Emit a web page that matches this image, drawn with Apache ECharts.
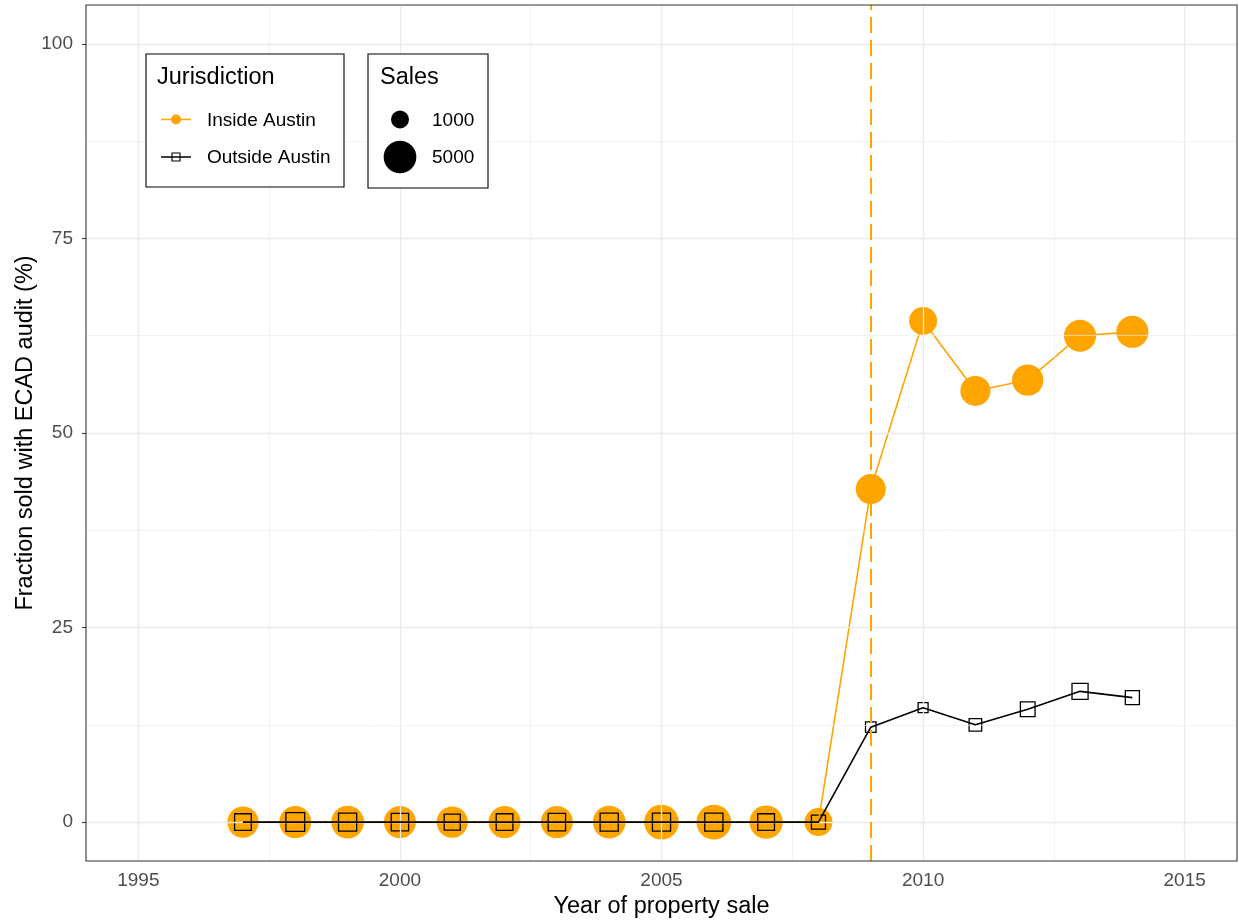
<!DOCTYPE html>
<html>
<head>
<meta charset="utf-8">
<script src="https://cdn.jsdelivr.net/npm/echarts@6/dist/echarts.min.js"></script>
<style>
html,body{margin:0;padding:0;background:#fff;}
#chart{width:1239px;height:922px;}
</style>
</head>
<body>
<div id="chart"></div>
<script>
// ---- data ----
const years = [1997,1998,1999,2000,2001,2002,2003,2004,2005,2006,2007,2008,2009,2010,2011,2012,2013,2014];
const insidePct  = [0,0,0,0,0,0,0,0,0,0,0,0,42.8,64.4,55.4,56.8,62.5,63.0];
const outsidePct = [0,0,0,0,0,0,0,0,0,0,0,0,12.2,14.7,12.5,14.5,16.8,16.0];
const insideSales  = [4500,4750,5000,4750,4500,4750,4750,5000,5800,5800,5250,3400,4050,3400,4050,4500,4750,4750];
const outsideSales = [1300,1770,1620,1450,1170,1300,1450,1620,1620,1620,1300,800,320,260,570,900,1170,800];
const xTicks = [1995,2000,2005,2010,2015];
const xMinorTicks = [1997.5,2002.5,2007.5,2012.5];
const yTicks = [0,25,50,75,100];
const yMinorTicks = [12.5,37.5,62.5,87.5];
const salesBreaks = [1000,5000];
const policyYear = 2009;
const seriesNames = ['Inside Austin','Outside Austin'];

// ---- helpers ----
const FONT = "'Liberation Sans', Arial, Helvetica, sans-serif";
const ORANGE = '#FFA500';
const TICK_FS = 19, TITLE_FS = 23.5, LEG_FS = 19;
function circleSize(s){
  return 18 + (Math.sqrt(s) - Math.sqrt(1000)) * 14.7 / (Math.sqrt(5000) - Math.sqrt(1000));
}
function squareSize(s){
  return 0.9 * circleSize(s) - 1.0;
}
const insideData = years.map((y,i)=>[y, insidePct[i], insideSales[i]]);
const outsideData = years.map((y,i)=>[y, outsidePct[i], outsideSales[i]]);

const chart = echarts.init(document.getElementById('chart'), null, {renderer:'canvas'});

const gridLines = [];
xMinorTicks.forEach(v=>gridLines.push({xAxis:v, lineStyle:{color:'#ebebeb', width:0.6, type:'solid'}}));
yMinorTicks.forEach(v=>gridLines.push({yAxis:v, lineStyle:{color:'#ebebeb', width:0.6, type:'solid'}}));
xTicks.forEach(v=>gridLines.push({xAxis:v, lineStyle:{color:'#ebebeb', width:1.3, type:'solid'}}));
yTicks.forEach(v=>gridLines.push({yAxis:v, lineStyle:{color:'#ebebeb', width:1.3, type:'solid'}}));

const legendGraphics = [
  {type:'rect', shape:{x:146, y:54, width:198, height:133}, style:{fill:'#fff', stroke:'#000', lineWidth:1.1}, z:100},
  {type:'text', x:157, y:78, style:{text:'Jurisdiction', font:TITLE_FS+'px '+FONT, fill:'#000', verticalAlign:'middle'}, z:101},
  {type:'line', shape:{x1:161, y1:119.5, x2:191, y2:119.5}, style:{stroke:ORANGE, lineWidth:1.5}, z:101},
  {type:'circle', shape:{cx:176, cy:119.5, r:5}, style:{fill:ORANGE}, z:102},
  {type:'text', x:207, y:120.5, style:{text:seriesNames[0], font:LEG_FS+'px '+FONT, fill:'#000', verticalAlign:'middle'}, z:101},
  {type:'line', shape:{x1:161, y1:157, x2:191, y2:157}, style:{stroke:'#000', lineWidth:1.5}, z:101},
  {type:'rect', shape:{x:172, y:153, width:8, height:8}, style:{fill:'none', stroke:'#000', lineWidth:1.1}, z:102},
  {type:'text', x:207, y:158, style:{text:seriesNames[1], font:LEG_FS+'px '+FONT, fill:'#000', verticalAlign:'middle'}, z:101},

  {type:'rect', shape:{x:368, y:54, width:120, height:134}, style:{fill:'#fff', stroke:'#000', lineWidth:1.1}, z:100},
  {type:'text', x:380, y:78, style:{text:'Sales', font:TITLE_FS+'px '+FONT, fill:'#000', verticalAlign:'middle'}, z:101},
  {type:'circle', shape:{cx:400, cy:119.5, r:circleSize(salesBreaks[0])/2}, style:{fill:'#000'}, z:101},
  {type:'text', x:432, y:120.5, style:{text:String(salesBreaks[0]), font:LEG_FS+'px '+FONT, fill:'#000', verticalAlign:'middle'}, z:101},
  {type:'circle', shape:{cx:400, cy:157, r:circleSize(salesBreaks[1])/2}, style:{fill:'#000'}, z:101},
  {type:'text', x:432, y:158, style:{text:String(salesBreaks[1]), font:LEG_FS+'px '+FONT, fill:'#000', verticalAlign:'middle'}, z:101}
];

const option = {
  animation:false,
  backgroundColor:'#fff',
  textStyle:{fontFamily:FONT},
  grid:{left:86, right:2, top:5, bottom:61, containLabel:false, outerBoundsMode:'none',
        show:true, borderColor:'#333', borderWidth:1.1, backgroundColor:'transparent', z:10},
  xAxis:{
    type:'value', min:1994, max:2016,
    name:'Year of property sale', nameLocation:'middle', nameGap:34, nameMoveOverlap:false,
    nameTextStyle:{fontSize:TITLE_FS, color:'#000', fontFamily:FONT},
    axisLine:{show:false},
    axisTick:{show:true, length:4, lineStyle:{color:'#333', width:1.1}, customValues:xTicks},
    axisLabel:{show:true, fontSize:TICK_FS, color:'#4d4d4d', margin:10, fontFamily:FONT, customValues:xTicks,
               formatter:v=>String(v)},
    splitLine:{show:false}, minorSplitLine:{show:false}
  },
  yAxis:{
    type:'value', min:-5, max:105,
    name:'Fraction sold with ECAD audit (%)', nameLocation:'middle', nameGap:48, nameRotate:90, nameMoveOverlap:false,
    nameTextStyle:{fontSize:TITLE_FS, color:'#000', fontFamily:FONT},
    axisLine:{show:false},
    axisTick:{show:true, length:4, lineStyle:{color:'#333', width:1.1}, customValues:yTicks},
    axisLabel:{show:true, fontSize:TICK_FS, color:'#4d4d4d', margin:13, fontFamily:FONT, customValues:yTicks,
               formatter:v=>String(v)},
    splitLine:{show:false}, minorSplitLine:{show:false}
  },
  series:[
    {
      type:'line', name:'grid', data:[], z:0, silent:true,
      markLine:{silent:true, symbol:['none','none'], label:{show:false}, animation:false, data:gridLines}
    },
    {
      type:'line', name:'policy', data:[], z:1, silent:true,
      markLine:{silent:true, symbol:['none','none'], label:{show:false}, animation:false,
        data:[{xAxis:policyYear, lineStyle:{color:ORANGE, width:2, type:[16,7]}}]}
    },
    {
      type:'scatter', name:seriesNames[0]+' pts', data:insideData, z:2,
      symbol:'circle', symbolSize:v=>circleSize(v[2]),
      itemStyle:{color:ORANGE, opacity:1}
    },
    {
      type:'scatter', name:seriesNames[1]+' pts', data:outsideData, z:3,
      symbol:'rect', symbolSize:v=>squareSize(v[2]),
      itemStyle:{color:'rgba(0,0,0,0)', borderColor:'#000', borderWidth:1.3, opacity:1}
    },
    {
      type:'line', name:seriesNames[0], data:insideData, z:4, showSymbol:false, symbol:'none',
      lineStyle:{color:ORANGE, width:1.6}
    },
    {
      type:'line', name:seriesNames[1], data:outsideData, z:5, showSymbol:false, symbol:'none',
      lineStyle:{color:'#000', width:1.6}
    }
  ],
  graphic:legendGraphics
};
chart.setOption(option);
</script>
</body>
</html>
